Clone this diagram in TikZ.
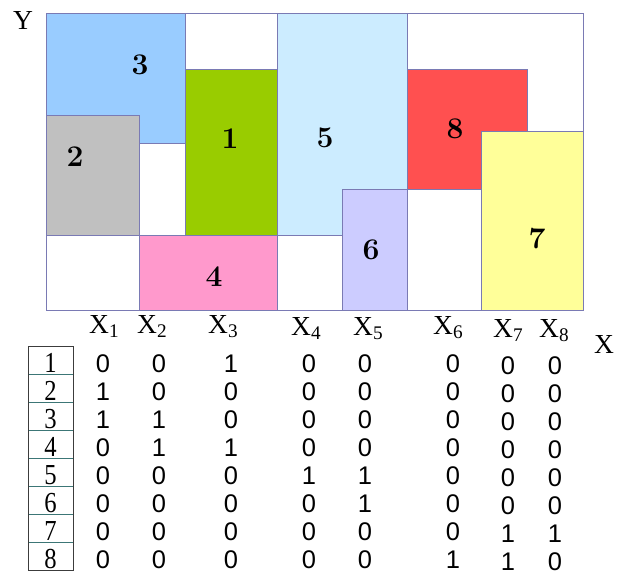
\documentclass[tikz,border=0pt]{standalone}
\usepackage{fontspec}
\usepackage{graphicx}
\newfontfamily\tms{Liberation Serif}
\newfontfamily\arl{Liberation Sans}
\definecolor{edgec}{RGB}{122,122,180}
\definecolor{c1}{HTML}{99CC00}
\definecolor{c2}{HTML}{C0C0C0}
\definecolor{c3}{HTML}{99CCFF}
\definecolor{c4}{HTML}{FF99CC}
\definecolor{c5}{HTML}{CCECFF}
\definecolor{c6}{HTML}{CCCCFF}
\definecolor{c7}{HTML}{FFFF99}
\definecolor{c8}{HTML}{FF5050}
\definecolor{sepc}{RGB}{60,118,118}
\definecolor{boxc}{RGB}{60,60,60}
\begin{document}
\begin{tikzpicture}[x=1pt,y=-1pt,
  region/.style={draw=edgec,line width=1pt},
  reglabel/.style={font=\fontsize{30}{30}\selectfont\bfseries,inner sep=0pt},
  axlabel/.style={font=\tms\fontsize{27.5}{27.5}\selectfont,anchor=base west,inner sep=0pt},
  rowlabel/.style={font=\tms\fontsize{29}{29}\selectfont,anchor=base,inner sep=0pt},
  matval/.style={font=\arl\fontsize{25.5}{25.5}\selectfont,anchor=base,inner sep=0pt}]
\useasboundingbox (0,0) rectangle (618,574);
\fill[white] (0,0) rectangle (618,574);
% frame
\draw[region,fill=white] (46,13.5) rectangle (583,310);
% regions
\draw[region,fill=c3] (46,13.5) rectangle (185,143);
\draw[region,fill=c2] (46,115) rectangle (139,235);
\draw[region,fill=c1] (185,69) rectangle (277,235);
\draw[region,fill=c4] (139,235) rectangle (277,310);
\draw[region,fill=c5] (277,13.5) rectangle (407,235);
\draw[region,fill=c6] (342,189) rectangle (407,310);
\draw[region,fill=c8] (407,69) rectangle (527,189);
\draw[region,fill=c7] (481,131) rectangle (583,310);
\draw[edgec,line width=1pt] (46,13.5) rectangle (583,310);
% region labels
\node[reglabel] (r3) at (140,64.5) {3};
\node[reglabel] (r2) at (75,157) {2};
\node[reglabel] (r1) at (230,139) {1};
\node[reglabel] (r4) at (214,277) {4};
\node[reglabel] (r5) at (325,138) {5};
\node[reglabel] (r6) at (371,250) {6};
\node[reglabel] (r8) at (455,129) {8};
\node[reglabel] (r7) at (537,239) {7};
% axis labels
\node[axlabel] (ly) at (13,29) {Y};
\node[axlabel] (lx) at (594,353) {X};
\node[axlabel] (x1) at (89,333) {X\textsubscript{1}};
\node[axlabel] (x2) at (137,333) {X\textsubscript{2}};
\node[axlabel] (x3) at (208,333) {X\textsubscript{3}};
\node[axlabel] (x4) at (291,335) {X\textsubscript{4}};
\node[axlabel] (x5) at (353,335) {X\textsubscript{5}};
\node[axlabel] (x6) at (433,334) {X\textsubscript{6}};
\node[axlabel] (x7) at (493,337) {X\textsubscript{7}};
\node[axlabel] (x8) at (539,337) {X\textsubscript{8}};
% table box
\foreach \k in {1,...,7} {
  \draw[sepc,line width=0.8pt] (28,346+28*\k) -- (73,346+28*\k);
}
\draw[boxc,line width=1pt] (28,346) rectangle (73,570);
\foreach \r/\vals in {1/{0,0,1,0,0,0,0,0},2/{1,0,0,0,0,0,0,0},3/{1,1,0,0,0,0,0,0},4/{0,1,1,0,0,0,0,0},5/{0,0,0,1,1,0,0,0},6/{0,0,0,0,1,0,0,0},7/{0,0,0,0,0,0,1,1},8/{0,0,0,0,0,1,1,0}} {
  \pgfmathsetmacro{\yb}{372+28*(\r-1)}
  \node[rowlabel] (n\r) at (50.5,\yb) {\scalebox{0.85}[1]{\r}};
  \foreach \v [count=\c] in \vals {
    \pgfmathsetmacro{\xc}{{103,159,231,309,365,453,508,555}[\c-1]}
    \pgfmathsetmacro{\dy}{\c>6 ? 2 : 0}
    \node[matval] (m\r-\c) at (\xc,\yb+\dy) {\v};
  }
}
\end{tikzpicture}
\end{document}
